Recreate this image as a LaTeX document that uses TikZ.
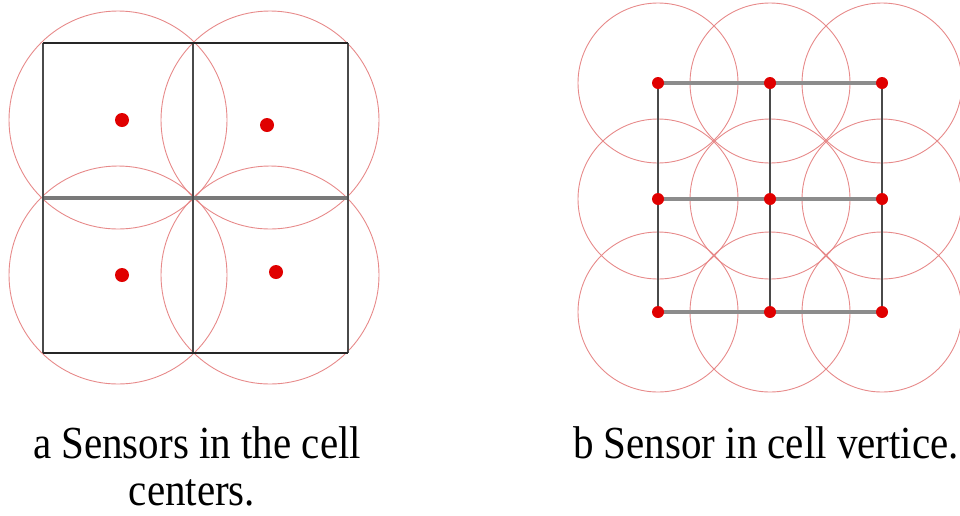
\documentclass[tikz,border=0pt]{standalone}
\usepackage{fontspec}
\usepackage{graphicx}
\setmainfont{Liberation Serif}
\definecolor{ringred}{HTML}{E78A8A}
\definecolor{dotred}{HTML}{E00000}
\definecolor{gridgray}{HTML}{8C8C8C}
\definecolor{griddark}{HTML}{4A4A4A}
\begin{document}
\begin{tikzpicture}[x=1pt,y=-1pt,
  ring/.style={draw=ringred,line width=0.9pt},
  sensor/.style={circle,fill=dotred,inner sep=0pt,minimum size=14pt},
  hline/.style={draw=gridgray,line width=3.2pt},
  vline/.style={draw=griddark,line width=1.8pt},
  bline/.style={draw=black!85,line width=1.8pt},
  caption/.style={anchor=base,inner sep=0pt,font=\fontsize{41}{50}\selectfont}]
\useasboundingbox (0,0) rectangle (960,515);
% ---- left figure ----
\coordinate (a11) at (43,43);  \coordinate (a12) at (193,43);  \coordinate (a13) at (348,43);
\coordinate (a21) at (43,198); \coordinate (a22) at (193,198); \coordinate (a23) at (348,198);
\coordinate (a31) at (43,353); \coordinate (a32) at (193,353); \coordinate (a33) at (348,353);
\coordinate (c1) at (118,120); \coordinate (c2) at (270,120);
\coordinate (c3) at (118,275); \coordinate (c4) at (270,275);
\foreach \c in {c1,c2,c3,c4} \draw[ring] (\c) circle (109);
\draw[hline,draw=gray!95!black] (a21) -- (a22) -- (a23);
\draw[vline] (a11) -- (a21) -- (a31);
\draw[vline] (a12) -- (a22) -- (a32);
\draw[vline] (a13) -- (a23) -- (a33);
\draw[bline] (a11) -- (a12) -- (a13);
\draw[bline] (a31) -- (a32) -- (a33);
\node[sensor] (s1) at (122,120) {};
\node[sensor] (s2) at (267,125) {};
\node[sensor] (s3) at (122,275) {};
\node[sensor] (s4) at (276,272) {};
% ---- right figure ----
\foreach \i/\x in {1/658,2/770,3/882}
  \foreach \j/\y in {1/83,2/199,3/312}
    \coordinate (p\j\i) at (\x,\y);
\foreach \j in {1,2,3} \foreach \i in {1,2,3} \draw[ring] (p\j\i) circle (80);
\foreach \j in {1,2,3} \draw[hline] (p\j1) -- (p\j2) -- (p\j3);
\foreach \i in {1,2,3} \draw[vline] (p1\i) -- (p2\i) -- (p3\i);
\foreach \j in {1,2,3} \foreach \i in {1,2,3}
  \node[sensor,minimum size=12pt] (v\j\i) at (p\j\i) {};
% ---- captions ----
\node[caption] (capa1) at (197,458) {\scalebox{1}[1.12]{a Sensors in the cell}};
\node[caption] (capa2) at (192,505) {\scalebox{1}[1.12]{centers.}};
\node[caption] (capb) at (766,458) {\scalebox{1}[1.12]{b Sensor in cell vertice.}};
\end{tikzpicture}
\end{document}
